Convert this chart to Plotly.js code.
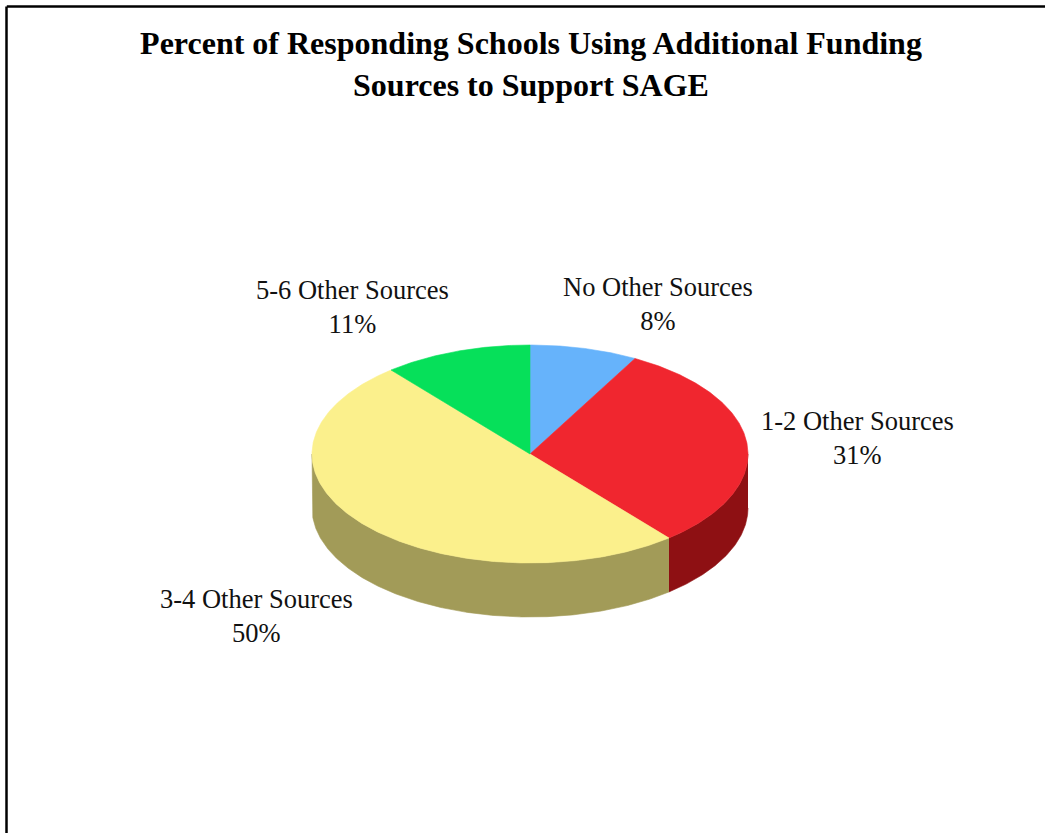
<!DOCTYPE html>
<html>
<head>
<meta charset="utf-8">
<script src="https://cdn.plot.ly/plotly-3.0.1.min.js"></script>
<style>html,body{margin:0;padding:0;background:#fff;}#chart{width:1045px;height:833px;}</style>
</head>
<body>
<div id="chart"></div>
<script>
// ---- data ----
const categories = ['No Other Sources', '1-2 Other Sources', '3-4 Other Sources', '5-6 Other Sources'];
const percents = [8, 31, 50, 11];
const titleLines = ['Percent of Responding Schools Using Additional Funding', 'Sources to Support SAGE'];

// ---- styles ----
const topColors = ['#66b3fb', '#f0262f', '#fbf08c', '#06e05a'];
const sideColors = ['#3a6a99', '#8e1013', '#a29b58', '#068a38'];

// ---- geometry (layout, not data) ----
const CX = 530, CY = 454, RX = 218, RY = 109, DEPTH = 54;
const labelPos = [[658, 304], [857, 438], [256, 616], [352, 307]];

function pt(tDeg, dy) {
  const t = tDeg * Math.PI / 180;
  return [CX + RX * Math.cos(t), CY + RY * Math.sin(t) + dy];
}
function arcPts(t0, t1, dy) {
  const xs = [], ys = [];
  const n = Math.max(2, Math.ceil(Math.abs(t1 - t0) / 0.5));
  for (let i = 0; i <= n; i++) {
    const p = pt(t0 + (t1 - t0) * i / n, dy);
    xs.push(p[0]); ys.push(p[1]);
  }
  return [xs, ys];
}

const total = percents.reduce((a, b) => a + b, 0);
const traces = [];
const tops = [];
let cum = 0;
percents.forEach((v, i) => {
  const t0 = -90 + 360 * cum / total;
  const t1 = -90 + 360 * (cum + v) / total;
  cum += v;
  // front side wall (visible part: screen angles 0..180, also 360..540)
  [[0, 180], [360, 540]].forEach(([a, b]) => {
    const s0 = Math.max(t0, a), s1 = Math.min(t1, b);
    if (s1 > s0) {
      const up = arcPts(s0, s1, 0);
      const dn = arcPts(s1, s0, DEPTH);
      traces.push({
        type: 'scatter', mode: 'lines', fill: 'toself',
        x: up[0].concat(dn[0]), y: up[1].concat(dn[1]),
        fillcolor: sideColors[i], line: {color: sideColors[i], width: 0.6},
        hoverinfo: 'skip', showlegend: false
      });
    }
  });
  const a = arcPts(t0, t1, 0);
  tops.push({
    type: 'scatter', mode: 'lines', fill: 'toself', name: categories[i],
    x: [CX].concat(a[0], [CX]), y: [CY].concat(a[1], [CY]),
    fillcolor: topColors[i], line: {color: topColors[i], width: 0.6},
    hoverinfo: 'skip', showlegend: false
  });
});
const data = traces.concat(tops);

const annotations = categories.map((c, i) => ({
  x: labelPos[i][0], y: labelPos[i][1], xref: 'x', yref: 'y',
  text: c + '<br>' + percents[i] + '%', showarrow: false,
  xanchor: 'center', yanchor: 'middle', align: 'center',
  font: {family: 'Liberation Serif, Times New Roman, serif', size: 26.5, color: '#111'}
}));

const layout = {
  width: 1045, height: 833,
  margin: {l: 0, r: 0, t: 0, b: 0},
  paper_bgcolor: '#ffffff', plot_bgcolor: '#ffffff',
  title: {
    text: titleLines.join('<br>'),
    x: 531 / 1045, xref: 'paper', xanchor: 'center',
    y: 1 - 54 / 833, yref: 'container', yanchor: 'top',
    font: {family: 'Liberation Serif, Times New Roman, serif', size: 32, color: '#000', weight: 'bold'}
  },
  xaxis: {range: [0, 1045], visible: false, fixedrange: true},
  yaxis: {range: [833, 0], visible: false, fixedrange: true},
  showlegend: false,
  annotations: annotations,
  shapes: [
    {type: 'line', xref: 'paper', yref: 'paper', x0: 0.0065, x1: 1, y0: 1 - 6.5 / 833, y1: 1 - 6.5 / 833, line: {color: '#000', width: 2.5}},
    {type: 'line', xref: 'paper', yref: 'paper', x0: 6.5 / 1045, x1: 6.5 / 1045, y0: 0, y1: 1 - 6.5 / 833, line: {color: '#000', width: 2.5}}
  ]
};

Plotly.newPlot('chart', data, layout, {staticPlot: true, displayModeBar: false});
</script>
</body>
</html>
